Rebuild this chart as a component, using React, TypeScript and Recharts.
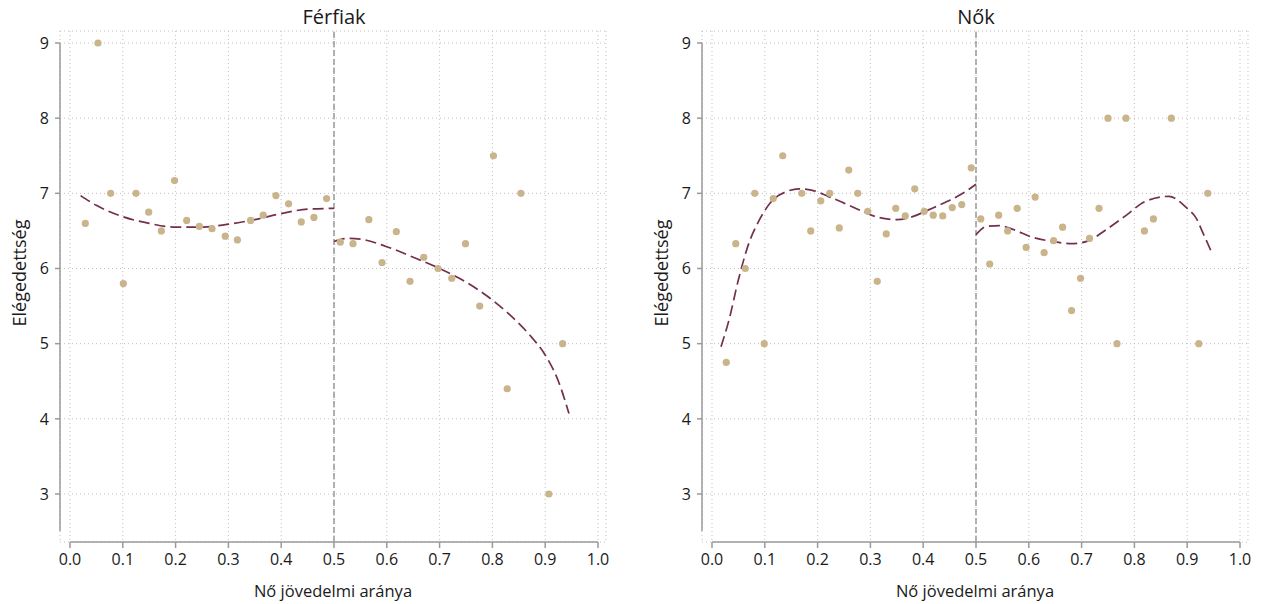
import {
  CartesianGrid,
  ComposedChart,
  Line,
  ReferenceLine,
  Scatter,
  XAxis,
  YAxis,
} from "recharts";

// --- data ---
const xTicks = [0, 0.1, 0.2, 0.3, 0.4, 0.5, 0.6, 0.7, 0.8, 0.9, 1];
const yTicks = [3, 4, 5, 6, 7, 8, 9];

// Férfiak: income share / satisfaction
const menShare = [
  0.029, 0.053, 0.077, 0.101, 0.125, 0.149, 0.173, 0.198, 0.221, 0.245, 0.269, 0.294,
  0.317, 0.342, 0.366, 0.39, 0.414, 0.438, 0.462, 0.486, 0.512, 0.536, 0.566, 0.591,
  0.618, 0.644, 0.67, 0.697, 0.723, 0.749, 0.776, 0.802, 0.828, 0.854, 0.907, 0.933,
];
const menSat = [
  6.6, 9.0, 7.0, 5.8, 7.0, 6.75, 6.5, 7.17, 6.64, 6.56, 6.53, 6.43,
  6.38, 6.64, 6.71, 6.97, 6.86, 6.62, 6.68, 6.93, 6.35, 6.33, 6.65, 6.08,
  6.49, 5.83, 6.15, 6.0, 5.87, 6.33, 5.5, 7.5, 4.4, 7.0, 3.0, 5.0,
];
const menFitLowX = [0.02, 0.05, 0.1, 0.15, 0.2, 0.25, 0.3, 0.35, 0.4, 0.45, 0.5];
const menFitLowY = [6.97, 6.84, 6.69, 6.6, 6.55, 6.55, 6.59, 6.65, 6.73, 6.79, 6.8];
const menFitHighX = [0.5, 0.525, 0.55, 0.6, 0.65, 0.7, 0.75, 0.8, 0.85, 0.875, 0.9, 0.925, 0.945];
const menFitHighY = [6.36, 6.4, 6.39, 6.29, 6.15, 6.0, 5.82, 5.58, 5.27, 5.08, 4.85, 4.5, 4.07];

// Nők
const womenShare = [
  0.027, 0.045, 0.063, 0.081, 0.099, 0.116, 0.134, 0.17, 0.187, 0.206, 0.223, 0.241,
  0.259, 0.276, 0.295, 0.313, 0.33, 0.348, 0.366, 0.384, 0.402, 0.419, 0.437, 0.455,
  0.473, 0.491, 0.509, 0.526, 0.543, 0.56, 0.578, 0.595, 0.612, 0.629, 0.647, 0.664,
  0.681, 0.698, 0.715, 0.733, 0.75, 0.767, 0.784, 0.819, 0.836, 0.87, 0.922, 0.939,
];
const womenSat = [
  4.75, 6.33, 6.0, 7.0, 5.0, 6.93, 7.5, 7.0, 6.5, 6.9, 7.0, 6.54,
  7.31, 7.0, 6.76, 5.83, 6.46, 6.8, 6.7, 7.06, 6.76, 6.71, 6.7, 6.81,
  6.85, 7.34, 6.66, 6.06, 6.71, 6.5, 6.8, 6.28, 6.95, 6.21, 6.37, 6.55,
  5.44, 5.87, 6.4, 6.8, 8.0, 5.0, 8.0, 6.5, 6.66, 8.0, 5.0, 7.0,
];
const womenFitLowX = [
  0.017, 0.032, 0.05, 0.07, 0.09, 0.115, 0.14, 0.165, 0.19, 0.22, 0.25, 0.285, 0.315,
  0.35, 0.38, 0.41, 0.445, 0.475, 0.5,
];
const womenFitLowY = [
  4.96, 5.31, 5.85, 6.34, 6.65, 6.91, 7.02, 7.06, 7.04, 6.96, 6.87, 6.76, 6.68,
  6.65, 6.69, 6.78, 6.89, 7.0, 7.12,
];
const womenFitHighX = [
  0.5, 0.52, 0.545, 0.57, 0.605, 0.645, 0.68, 0.71, 0.745, 0.785, 0.82, 0.865, 0.9,
  0.917, 0.93, 0.946,
];
const womenFitHighY = [
  6.45, 6.56, 6.57, 6.52, 6.42, 6.36, 6.33, 6.36, 6.51, 6.71, 6.89, 6.96, 6.8,
  6.67, 6.47, 6.22,
];

const zip = (xs: number[], ys: number[]) => xs.map((x, i) => ({ x, y: ys[i] }));

const DOT = "#c9b48b";
const FIT = "#73304c";
const AXIS = "#9a9a9a";
const TEXT = "#1a1a1a";

function Panel({
  title,
  width,
  points,
  fitLow,
  fitHigh,
}: {
  title: string;
  width: number;
  points: { x: number; y: number }[];
  fitLow: { x: number; y: number }[];
  fitHigh: { x: number; y: number }[];
}) {
  const plotRight = 606;
  return (
    <ComposedChart
      width={width}
      height={604}
      margin={{ top: 31, right: width - plotRight, bottom: 0, left: 0 }}
    >
      <CartesianGrid stroke="#c0c0c0" strokeDasharray="1 3" />
      <XAxis
        type="number"
        dataKey="x"
        domain={[0, 1]}
        ticks={xTicks}
        padding={{ left: 10, right: 8 }}
        tickFormatter={(v: number) => v.toFixed(1)}
        height={62}
        tickSize={6}
        tickMargin={6}
        tick={{ fontSize: 16, fill: TEXT }}
        stroke={AXIS}
        axisLine={{ stroke: AXIS, strokeWidth: 1.5, strokeDasharray: "0 10 528 100" }}
        tickLine={{ stroke: AXIS, strokeWidth: 1.5 }}
        label={{ value: "Nő jövedelmi aránya", position: "insideBottom", offset: 7, fontSize: 16.5, fill: TEXT }}
      />
      <YAxis
        type="number"
        dataKey="y"
        domain={[3, 9]}
        ticks={yTicks}
        padding={{ top: 12, bottom: 48 }}
        width={60}
        tickSize={5}
        tickMargin={6}
        tick={{ fontSize: 16, fill: TEXT }}
        axisLine={{ stroke: AXIS, strokeWidth: 1.5, strokeDasharray: "0 12 488 100" }}
        tickLine={{ stroke: AXIS, strokeWidth: 1.5 }}
      />
      <ReferenceLine x={0.5} stroke="#999" strokeWidth={1.5} strokeDasharray="6 3" />
      <Scatter
        data={points}
        fill={DOT}
        isAnimationActive={false}
        shape={(p: any) => <circle cx={p.cx} cy={p.cy} r={3.6} fill={DOT} />}
      />
      <Line
        data={fitLow}
        dataKey="y"
        type="monotone"
        stroke={FIT}
        strokeWidth={1.7}
        strokeDasharray="11 5"
        dot={false}
        activeDot={false}
        isAnimationActive={false}
      />
      <Line
        data={fitHigh}
        dataKey="y"
        type="monotone"
        stroke={FIT}
        strokeWidth={1.7}
        strokeDasharray="11 5"
        dot={false}
        activeDot={false}
        isAnimationActive={false}
      />
      <text x={334} y={16} textAnchor="middle" dominantBaseline="central" fontSize={20} fill={TEXT}>
        {title}
      </text>
      <text
        x={19}
        y={273}
        transform="rotate(-90 19 273)"
        textAnchor="middle"
        dominantBaseline="central"
        fontSize={18}
        fill={TEXT}
      >
        Elégedettség
      </text>
    </ComposedChart>
  );
}

export default function App() {
  return (
    <div
      style={{
        position: "absolute",
        left: 0,
        top: 0,
        display: "flex",
        background: "#fff",
        fontFamily: "'Open Sans', sans-serif",
      }}
    >
      <Panel
        title="Férfiak"
        width={642}
        points={zip(menShare, menSat)}
        fitLow={zip(menFitLowX, menFitLowY)}
        fitHigh={zip(menFitHighX, menFitHighY)}
      />
      <Panel
        title="Nők"
        width={621}
        points={zip(womenShare, womenSat)}
        fitLow={zip(womenFitLowX, womenFitLowY)}
        fitHigh={zip(womenFitHighX, womenFitHighY)}
      />
    </div>
  );
}
